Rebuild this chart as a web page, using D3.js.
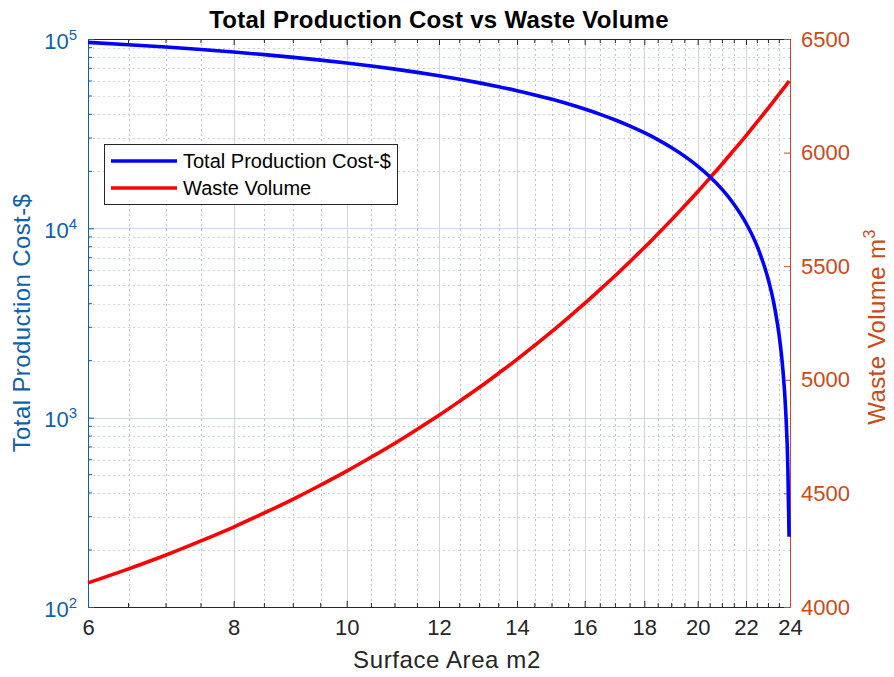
<!DOCTYPE html>
<html>
<head>
<meta charset="utf-8">
<script src="https://cdn.jsdelivr.net/npm/d3@7"></script>
<style>
  html, body { margin: 0; padding: 0; background: #fff; }
  svg { display: block; font-family: "Liberation Sans", Arial, Helvetica, sans-serif; }
</style>
</head>
<body>
<svg id="chart" width="894" height="677"></svg>
<script>
// Surface area samples (m2)
const surfaceArea = [6, 6.5, 7, 7.5, 8, 8.5, 9, 9.5, 10, 10.5, 11, 11.5, 12, 12.5, 13, 13.5,
  14, 14.5, 15, 15.5, 16, 16.5, 17, 17.5, 18, 18.5, 19, 19.5, 20, 20.5, 21, 21.5,
  22, 22.5, 23, 23.25, 23.5, 23.65, 23.8, 23.9, 23.956];
// Total production cost ($), left log axis
const productionCost = [96000, 93330, 90660, 88000, 85330, 82660, 80000, 77330, 74660, 72000,
  69330, 66660, 64000, 61330, 58660, 56000, 53330, 50660, 48000, 45330, 42660, 40000,
  37330, 34660, 32000, 29330, 26660, 24000, 21330, 18670, 16000, 13330, 10670, 8000,
  5330, 4000, 2670, 1870, 1070, 533, 235];
// Waste volume (m3), right linear axis
const wasteVolume = [4106, 4168, 4229, 4291, 4352, 4414, 4475, 4537, 4598, 4660, 4721, 4783,
  4844, 4906, 4967, 5029, 5090, 5152, 5213, 5275, 5336, 5398, 5459, 5521, 5582, 5644,
  5705, 5767, 5828, 5890, 5951, 6013, 6074, 6136, 6197, 6228, 6259, 6277, 6295, 6308, 6315];

const xTicks = [6, 8, 10, 12, 14, 16, 18, 20, 22, 24];
const xMinorTicks = [6.5, 7, 7.5, 8.5, 9, 9.5, 10.5, 11, 11.5, 12.5, 13, 13.5, 14.5, 15, 15.5,
  16.5, 17, 17.5, 18.5, 19, 19.5, 20.5, 21, 21.5, 22.5, 23, 23.5];
const costTicks = [1e2, 1e3, 1e4, 1e5];
const costExponents = [2, 3, 4, 5];
const wasteTicks = [4000, 4500, 5000, 5500, 6000, 6500];

const titleText = "Total Production Cost vs Waste Volume";
const xLabelText = "Surface Area m2";
const costLabelText = "Total Production Cost-$";
const wasteLabelText = "Waste Volume m";
const seriesNames = ["Total Production Cost-$", "Waste Volume"];

const leftColor = "#0f5fab";
const rightColor = "#cc4a17";
const costColor = "#0000ff";
const wasteColor = "#ff0000";

const svg = d3.select("#chart");
const m = { left: 88, right: 790, top: 39, bottom: 607 };

const x = d3.scaleLog().domain([6, 24]).range([m.left, m.right]);
const yCost = d3.scaleLog().domain([1e2, 1e5]).range([m.bottom, m.top]);
const yWaste = d3.scaleLinear().domain([4000, 6500]).range([m.bottom, m.top]);

// minor decade positions for the log cost axis
const costMinor = [];
for (let d = 2; d < 5; d++) for (let k = 2; k <= 9; k++) costMinor.push(k * Math.pow(10, d));

const grid = svg.append("g");
// vertical grid
grid.selectAll(".vminor").data(xMinorTicks).join("line")
  .attr("x1", d => Math.round(x(d)) + 0.5).attr("x2", d => Math.round(x(d)) + 0.5).attr("y1", m.top).attr("y2", m.bottom)
  .attr("stroke", "#c0c4ca").attr("stroke-width", 1).attr("stroke-dasharray", "2,3");
grid.selectAll(".vmajor").data(xTicks.slice(1, -1)).join("line")
  .attr("x1", d => Math.round(x(d)) + 0.5).attr("x2", d => Math.round(x(d)) + 0.5).attr("y1", m.top).attr("y2", m.bottom)
  .attr("stroke", "#d3d5d9").attr("stroke-width", 1);
// horizontal grid
grid.selectAll(".hminor").data(costMinor).join("line")
  .attr("x1", m.left).attr("x2", m.right).attr("y1", d => Math.round(yCost(d)) + 0.5).attr("y2", d => Math.round(yCost(d)) + 0.5)
  .attr("stroke", "#c3d5e6").attr("stroke-width", 1).attr("stroke-dasharray", "2,3");
grid.selectAll(".hmajor").data(costTicks.slice(1, -1)).join("line")
  .attr("x1", m.left).attr("x2", m.right).attr("y1", d => Math.round(yCost(d)) + 0.5).attr("y2", d => Math.round(yCost(d)) + 0.5)
  .attr("stroke", "#c9dbeb").attr("stroke-width", 1);

// bottom axis (ticks inward)
const axBottom = svg.append("g").attr("transform", `translate(0,${m.bottom})`);
axBottom.call(d3.axisBottom(x).tickValues(xTicks).tickFormat(d3.format("d")).tickSizeInner(-6).tickSizeOuter(0));
axBottom.append("g").selectAll("line").data(xMinorTicks).join("line")
  .attr("x1", d => x(d)).attr("x2", d => x(d)).attr("y1", 0).attr("y2", -4).attr("stroke", "#262626");
axBottom.select(".domain").attr("stroke", "#262626");
axBottom.selectAll(".tick line").attr("stroke", "#262626");
axBottom.selectAll(".tick text").attr("y", 12).attr("dy", "0.71em")
  .attr("fill", "#262626").attr("font-size", 22).attr("font-family", "Liberation Sans, Arial, sans-serif");

// top border with mirrored ticks
const axTop = svg.append("g").attr("transform", `translate(0,${m.top})`);
axTop.call(d3.axisTop(x).tickValues(xTicks).tickFormat("").tickSizeInner(-6).tickSizeOuter(0));
axTop.append("g").selectAll("line").data(xMinorTicks).join("line")
  .attr("x1", d => x(d)).attr("x2", d => x(d)).attr("y1", 0).attr("y2", 4).attr("stroke", "#262626");
axTop.select(".domain").attr("stroke", "#262626");
axTop.selectAll(".tick line").attr("stroke", "#262626");

// left cost axis (log)
const axLeft = svg.append("g").attr("transform", `translate(${m.left},0)`);
axLeft.call(d3.axisLeft(yCost).tickValues(costTicks).tickFormat("").tickSizeInner(-6).tickSizeOuter(0));
axLeft.append("g").selectAll("line").data(costMinor).join("line")
  .attr("x1", 0).attr("x2", 4).attr("y1", d => yCost(d)).attr("y2", d => yCost(d)).attr("stroke", leftColor);
axLeft.select(".domain").attr("stroke", leftColor);
axLeft.selectAll(".tick line").attr("stroke", leftColor);
axLeft.selectAll(".tick").each(function (d, i) {
  const t = d3.select(this).append("text")
    .attr("x", -11).attr("y", 9).attr("text-anchor", "end")
    .attr("fill", leftColor).attr("font-size", 22);
  t.append("tspan").text("10");
  t.append("tspan").attr("dy", -9).attr("font-size", 15).text(costExponents[i]);
});

// right waste axis (linear)
const axRight = svg.append("g").attr("transform", `translate(${m.right},0)`);
axRight.call(d3.axisRight(yWaste).tickValues(wasteTicks).tickFormat(d3.format("d")).tickSizeInner(-6).tickSizeOuter(0));
axRight.select(".domain").attr("stroke", rightColor);
axRight.selectAll(".tick line").attr("stroke", rightColor);
axRight.selectAll(".tick text").attr("x", 11).attr("fill", rightColor).attr("font-size", 22)
  .attr("font-family", "Liberation Sans, Arial, sans-serif");

// series
const costLine = d3.line().x((d, i) => x(surfaceArea[i])).y(d => yCost(d)).curve(d3.curveMonotoneX);
const wasteLine = d3.line().x((d, i) => x(surfaceArea[i])).y(d => yWaste(d)).curve(d3.curveMonotoneX);
svg.append("path").datum(wasteVolume).attr("d", wasteLine)
  .attr("fill", "none").attr("stroke", wasteColor).attr("stroke-width", 3.6).attr("stroke-linejoin", "round");
svg.append("path").datum(productionCost).attr("d", costLine)
  .attr("fill", "none").attr("stroke", costColor).attr("stroke-width", 3.6).attr("stroke-linejoin", "round");

// title and labels
svg.append("text").attr("x", (m.left + m.right) / 2).attr("y", 28).attr("text-anchor", "middle")
  .attr("font-weight", "bold").attr("font-size", 24).attr("letter-spacing", 0.25)
  .attr("fill", "#000").text(titleText);
svg.append("text").attr("x", (m.left + m.right) / 2 + 8).attr("y", 668).attr("text-anchor", "middle")
  .attr("font-size", 24).attr("letter-spacing", 0.6).attr("fill", "#262626").text(xLabelText);
svg.append("text").attr("transform", `translate(30,${(m.top + m.bottom) / 2}) rotate(-90)`)
  .attr("text-anchor", "middle").attr("font-size", 24).attr("letter-spacing", 0.4)
  .attr("fill", leftColor).text(costLabelText);
const wl = svg.append("text").attr("transform", `translate(885,${(m.top + m.bottom) / 2 + 4}) rotate(-90)`)
  .attr("text-anchor", "middle").attr("font-size", 24).attr("letter-spacing", 0.4).attr("fill", rightColor);
wl.append("tspan").text(wasteLabelText);
wl.append("tspan").attr("dy", -10).attr("font-size", 16).text("3");

// legend
const lg = svg.append("g").attr("transform", "translate(104,144)");
lg.append("rect").attr("x", 0.5).attr("y", 0.5).attr("width", 293).attr("height", 60)
  .attr("fill", "#fff").attr("stroke", "#262626").attr("stroke-width", 1);
const seriesColors = [costColor, wasteColor];
seriesNames.forEach((name, i) => {
  const yy = 17 + i * 27;
  lg.append("line").attr("x1", 7).attr("x2", 73).attr("y1", yy).attr("y2", yy)
    .attr("stroke", seriesColors[i]).attr("stroke-width", 3.6);
  lg.append("text").attr("x", 79).attr("y", yy).attr("dy", "0.35em")
    .attr("font-size", 20).attr("fill", "#000").text(name);
});
</script>
</body>
</html>
